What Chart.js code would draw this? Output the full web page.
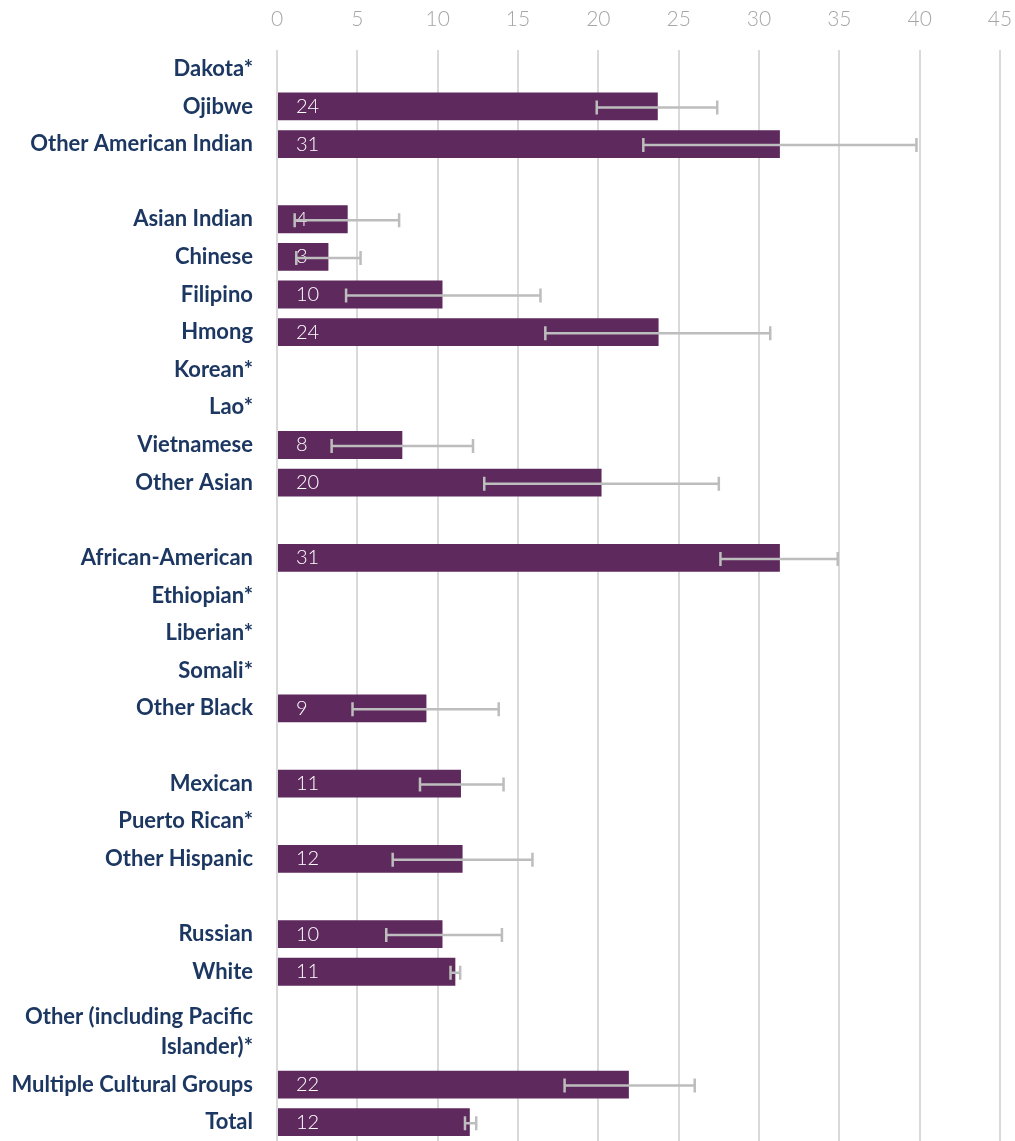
<!DOCTYPE html>
<html>
<head>
<meta charset="utf-8">
<script src="https://cdn.jsdelivr.net/npm/chart.js@4"></script>
<style>
  html, body { margin: 0; padding: 0; background: #ffffff; }
  #wrap { width: 1015px; height: 1141px; position: relative; }
</style>
</head>
<body>
<div id="wrap"><canvas id="c" width="1015" height="1141"></canvas></div>
<script>
// Categories ("" = spacer row)
const categories = [
  "Dakota*", "Ojibwe", "Other American Indian", "",
  "Asian Indian", "Chinese", "Filipino", "Hmong", "Korean*", "Lao*", "Vietnamese", "Other Asian", "",
  "African-American", "Ethiopian*", "Liberian*", "Somali*", "Other Black", "",
  "Mexican", "Puerto Rican*", "Other Hispanic", "",
  "Russian", "White", "", ["Other (including Pacific", "Islander)*", ""],
  "Multiple Cultural Groups", "Total"
];
// Percent values (null = suppressed / spacer)
const values = [
  null, 23.7, 31.3, null,
  4.4, 3.2, 10.3, 23.75, null, null, 7.8, 20.2, null,
  31.3, null, null, null, 9.3, null,
  11.45, null, 11.55, null,
  10.3, 11.1, null, null,
  21.9, 12.0
];
// Confidence interval lower bounds
const errLow = [
  null, 19.9, 22.8, null,
  1.1, 1.2, 4.3, 16.7, null, null, 3.4, 12.9, null,
  27.6, null, null, null, 4.7, null,
  8.9, null, 7.2, null,
  6.8, 10.8, null, null,
  17.9, 11.7
];
// Confidence interval upper bounds
const errHigh = [
  null, 27.4, 39.8, null,
  7.6, 5.2, 16.4, 30.7, null, null, 12.2, 27.5, null,
  34.9, null, null, null, 13.8, null,
  14.1, null, 15.9, null,
  14.0, 11.4, null, null,
  26.0, 12.4
];
const xTicks = [0, 5, 10, 15, 20, 25, 30, 35, 40, 45];

const valueLabelPlugin = {
  id: 'valueLabels',
  afterDatasetsDraw(chart) {
    const ctx = chart.ctx;
    const xs = chart.scales.x, ys = chart.scales.y;
    ctx.save();
    ctx.fillStyle = '#ffffff';
    ctx.font = '300 20px Lato';
    ctx.textAlign = 'left';
    ctx.textBaseline = 'middle';
    values.forEach((v, i) => {
      if (v === null) return;
      ctx.fillText(String(Math.round(v)), xs.getPixelForValue(0) + 19, ys.getPixelForValue(i));
    });
    // error bars
    ctx.strokeStyle = '#bdbdbd';
    ctx.lineWidth = 2.5;
    errLow.forEach((lo, i) => {
      const hi = errHigh[i];
      if (lo === null || hi === null) return;
      const y = ys.getPixelForValue(i) + 1;
      const x1 = xs.getPixelForValue(lo), x2 = xs.getPixelForValue(hi);
      ctx.beginPath();
      ctx.moveTo(x1, y); ctx.lineTo(x2, y);
      ctx.moveTo(x1, y - 7); ctx.lineTo(x1, y + 7);
      ctx.moveTo(x2, y - 7); ctx.lineTo(x2, y + 7);
      ctx.stroke();
    });
    ctx.restore();
  }
};

new Chart(document.getElementById('c'), {
  type: 'bar',
  data: {
    labels: categories,
    datasets: [{
      data: values,
      backgroundColor: '#5e295c',
      borderWidth: 0,
      categoryPercentage: 1,
      barPercentage: 0.74
    }]
  },
  options: {
    indexAxis: 'y',
    responsive: false,
    animation: false,
    devicePixelRatio: 1,
    layout: { padding: { left: 0, right: 15, top: 0, bottom: 0 } },
    plugins: { legend: { display: false }, tooltip: { enabled: false } },
    scales: {
      x: {
        position: 'top',
        min: 0, max: 45,
        afterBuildTicks: s => { s.ticks = xTicks.map(v => ({ value: v })); },
        afterFit: s => { s.height = 50; s.paddingLeft = 0; s.paddingRight = 0; },
        grid: { color: '#d9d9d9', lineWidth: 2, drawTicks: false },
        border: { display: false },
        ticks: { color: '#a6a6a6', font: { family: 'Lato', size: 21, weight: '300' }, padding: 18 }
      },
      y: {
        afterFit: s => { s.width = 277; s.paddingTop = 0; s.paddingBottom = 0; },
        grid: { display: false, drawTicks: true, tickLength: 24 },
        border: { display: false },
        ticks: {
          autoSkip: false,
          color: '#1c3761',
          font: { family: 'Lato', size: 22, weight: 'bold', lineHeight: 1.36 },
          padding: 0
        }
      }
    }
  },
  plugins: [valueLabelPlugin]
});
</script>
</body>
</html>
